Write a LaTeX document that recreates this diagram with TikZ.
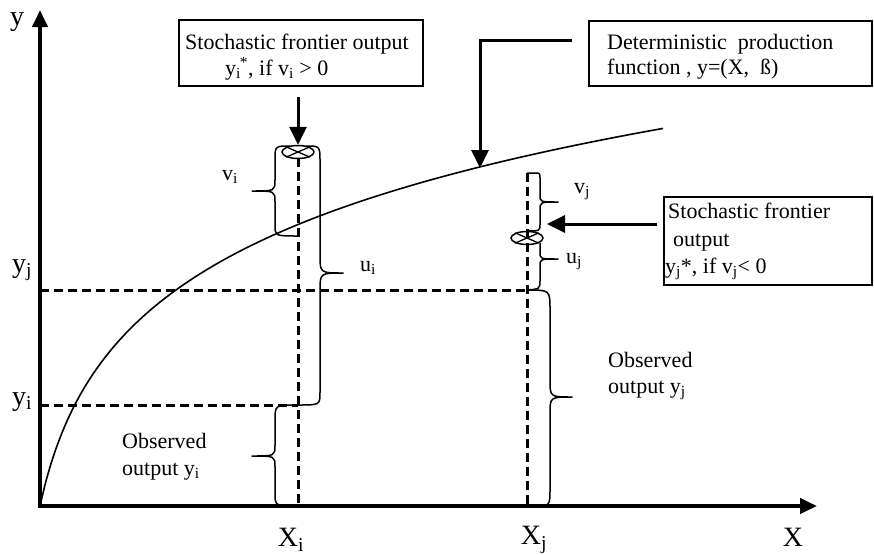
\documentclass[tikz,border=0pt]{standalone}
\usepackage{fontspec}
\setmainfont{Liberation Serif}
\usetikzlibrary{arrows.meta,shapes.geometric}
\begin{document}
\begin{tikzpicture}[x=1pt,y=-1pt,
  axis/.style={line width=4pt,line cap=rect,-{Triangle[width=15pt,length=17pt]}},
  guide/.style={line width=3pt,dash pattern=on 9pt off 5pt},
  brace/.style={line width=1.5pt,line join=round},
  curvestyle/.style={line width=1.6pt},
  pointer/.style={line width=3pt,-{Triangle[width=17pt,length=18pt]}},
  box/.style={draw,line width=1.5pt,inner sep=0pt,anchor=north west},
  txt/.style={font=\fontsize{22}{26}\selectfont,inner sep=0pt,anchor=base west,text height=15pt,text depth=4pt},
  sym/.style={font=\fontsize{22}{26}\selectfont,inner sep=0pt},
  axl/.style={font=\fontsize{28}{30}\selectfont,inner sep=0pt},
  otimes/.style={draw,ellipse,line width=1.5pt,minimum width=32pt,minimum height=13pt,inner sep=0pt}
]
\useasboundingbox (0,0) rectangle (874,554);

% key coordinates
\coordinate (O) at (40,506);
\coordinate (ytip) at (40,10);
\coordinate (xtip) at (817,506);
\coordinate (yiL) at (40,405);
\coordinate (yjL) at (40,290);
\coordinate (Pi) at (298,405);
\coordinate (Pj) at (527,290);
\coordinate (Bi) at (298,506);
\coordinate (Bj) at (527,506);
\coordinate (Ti) at (298,158);
\coordinate (Tj) at (527,173);

% dashed guides
\draw[guide] (yjL) -- (Pj);
\draw[guide] (yiL) -- (Pi);
\draw[guide] (Ti) -- (Bi);
\draw[guide] (Tj) -- (Bj);

% production function
\draw[curvestyle] plot[domain=40:663,samples=120,smooth] (\x,{506-116*ln(1+(\x-40)/25)});

% axes
\draw[axis] (O) -- (ytip);
\draw[axis] (O) -- (xtip);

% stochastic frontier points
\node[otimes] (ei) at (298,152) {};
\draw[line width=1.3pt] (ei.north west) -- (ei.south east) (ei.north east) -- (ei.south west);
\node[otimes] (ej) at (527,238) {};
\draw[line width=1.3pt] (ej.north west) -- (ej.south east) (ej.north east) -- (ej.south west);

% braces at X_i
\draw[brace] (290,146) .. controls (275,146) .. (275,160) -- (275,180)
  .. controls (275,191) .. (252,191) .. controls (275,191) .. (275,202)
  -- (275,225) .. controls (275,236) .. (298,236);
\draw[brace] (306,146) .. controls (320,146) .. (320,162) -- (320,255)
  .. controls (320,273) .. (343,273) .. controls (320,273) .. (320,291)
  -- (320,392) .. controls (320,405) .. (Pi);
\draw[brace] (Pi) .. controls (275,405) .. (275,420) -- (275,445)
  .. controls (275,456) .. (252,456) .. controls (275,456) .. (275,467)
  -- (275,493) .. controls (275,506) .. (Bi);

% braces at X_j
\draw[brace] (Tj) -- (535,173) .. controls (540,173) .. (540,180) -- (540,195)
  .. controls (540,202) .. (558,202) .. controls (540,202) .. (540,210)
  -- (540,224) .. controls (540,231) .. (527,231);
\draw[brace] (540,243) -- (540,252) .. controls (540,259) .. (558,259)
  .. controls (540,259) .. (540,266) -- (540,280) .. controls (540,289) .. (Pj);
\draw[brace] (Pj) .. controls (550,290) .. (550,310) -- (550,380)
  .. controls (550,397) .. (572,397) .. controls (550,397) .. (550,414)
  -- (550,488) .. controls (550,506) .. (535,506);

% boxes
\node[box,minimum width=244pt,minimum height=66pt] (b1) at (178,19) {};
\node[txt] (b1a) at (185,49) {Stochastic frontier output};
\node[txt] (b1b) at (225,75) {y\textsubscript{i}\kern-1pt\textsuperscript{*}, if v\textsubscript{i} > 0};

\node[box,minimum width=283pt,minimum height=65pt] (b2) at (588,20) {};
\node[txt] (b2a) at (607,49) {Deterministic\hspace{0.5em}production};
\node[txt] (b2b) at (607,74) {function , y=(X,\hspace{0.5em}ß)};

\node[box,minimum width=208pt,minimum height=88pt] (b3) at (663,196) {};
\node[txt] (b3a) at (668,218) {Stochastic frontier};
\node[txt] (b3b) at (673,246) {output};
\node[txt] (b3c) at (665,273) {y\textsubscript{j}*, if v\textsubscript{j}< 0};

% pointers
\coordinate (p1s) at (298,97);
\draw[pointer] (p1s) -- (ei.north);
\coordinate (p2s) at (572,40);
\coordinate (p2e) at (480,168);
\draw[pointer] (p2s) -| (p2e);
\coordinate (p3s) at (657,224);
\coordinate (p3e) at (547,224);
\draw[pointer] (p3s) -- (p3e);

% labels
\node[txt] (obi1) at (122,448) {Observed};
\node[txt] (obi2) at (122,475) {output y\textsubscript{i}};
\node[txt] (obj1) at (608,367) {Observed};
\node[txt] (obj2) at (608,393) {output y\textsubscript{j}};

\node[sym] (lvi) at (230,177) {v\textsubscript{i}};
\node[sym] (lui) at (368,268) {u\textsubscript{i}};
\node[sym] (lvj) at (582,192) {v\textsubscript{j}};
\node[sym] (luj) at (574,262) {u\textsubscript{j}};

\node[axl] (ly) at (17,22) {y};
\node[axl] (lyj) at (22,270) {y\textsubscript{j}};
\node[axl] (lyi) at (22,402) {y\textsubscript{i}};
\node[axl] (lXi) at (291,540) {X\textsubscript{i}};
\node[axl] (lXj) at (534,540) {X\textsubscript{j}};
\node[axl] (lX) at (793,537) {X};
\end{tikzpicture}
\end{document}
